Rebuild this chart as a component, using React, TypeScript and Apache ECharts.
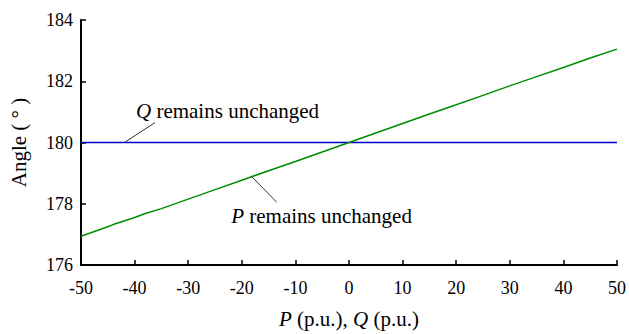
import React, { useEffect, useRef } from "react";
import * as echarts from "echarts";

const xTicks = [-50, -40, -30, -20, -10, 0, 10, 20, 30, 40, 50];
const pUnchangedX = [-50, -45, -44, -40, -38, -35, -30, -25, -20, -15, -10, -5, 0, 5, 10, 15, 20, 25, 30, 35, 40, 45, 50];
const pUnchangedY = [176.94, 177.25, 177.32, 177.55, 177.68, 177.84, 178.15, 178.46, 178.77, 179.08, 179.38, 179.69, 180.0, 180.31, 180.62, 180.93, 181.23, 181.54, 181.85, 182.15, 182.45, 182.76, 183.05];
const qUnchangedX = [-50, 50];
const qUnchangedY = [180, 180];

const qLeader = [[-41.9, 180], [-36.2, 180.65]];
const pLeader = [[-18.1, 178.88], [-13.5, 178.05]];
const qLabelAt = [-39.74, 181.02];
const pLabelAt = [-21.98, 177.61];

const FONT = "Liberation Serif";
const FS = 18;
const FN = 21;

export default function App() {
  const ref = useRef<HTMLDivElement>(null);
  useEffect(() => {
    if (!ref.current) return;
    const chart = echarts.init(ref.current, null, { renderer: "svg" });
    chart.setOption({
      animation: false,
      textStyle: { fontFamily: FONT },
      grid: { left: 74, top: 20, width: 546, height: 258, containLabel: false },
      xAxis: {
        type: "value",
        min: -50,
        max: 50,
        interval: 10,
        axisLine: { onZero: false, lineStyle: { color: "#000", width: 2 } },
        axisTick: { inside: true, length: 5, lineStyle: { color: "#000", width: 1.5 } },
        splitLine: { show: false },
        axisLabel: { color: "#000", fontSize: FS, fontFamily: FONT, margin: 14 },
        name: "{i|P} (p.u.), {i|Q} (p.u.)",
        nameLocation: "middle",
        nameGap: 43,
        nameTextStyle: {
          color: "#000",
          fontSize: FN,
          fontFamily: FONT,
          rich: { i: { fontStyle: "italic", fontSize: FN, fontFamily: FONT, color: "#000" } },
        },
      },
      yAxis: {
        type: "value",
        min: 176,
        max: 184,
        interval: 2,
        axisLine: { show: true, onZero: false, lineStyle: { color: "#000", width: 2 } },
        axisTick: { show: true, inside: true, length: 5, lineStyle: { color: "#000", width: 1.5 } },
        splitLine: { show: false },
        axisLabel: { color: "#000", fontSize: FS, fontFamily: FONT, margin: 8 },
        name: "Angle ( ° )",
        nameLocation: "middle",
        nameGap: 52,
        nameRotate: 90,
        nameTextStyle: { color: "#000", fontSize: FN, fontFamily: FONT },
      },
      series: [
        {
          type: "line",
          data: qUnchangedX.map((x, i) => [x, qUnchangedY[i]]),
          showSymbol: false,
          lineStyle: { color: "#0000cc", width: 1.5 },
          z: 2,
        },
        {
          type: "line",
          data: pUnchangedX.map((x, i) => [x, pUnchangedY[i]]),
          showSymbol: false,
          lineStyle: { color: "#008c00", width: 1.5 },
          z: 3,
        },
      ],
    });
    const px = (p: number[]) => chart.convertToPixel({ gridIndex: 0 }, p) as number[];
    const lineEl = (a: number[][]) => {
      const s = px(a[0]);
      const e = px(a[1]);
      return {
        type: "line",
        shape: { x1: s[0], y1: s[1], x2: e[0], y2: e[1] },
        style: { stroke: "#333", lineWidth: 1 },
        z: 10,
      };
    };
    const textEl = (at: number[], letter: string) => {
      const p = px(at);
      return {
        type: "text",
        x: p[0],
        y: p[1],
        style: {
          text: `{i|${letter}} remains unchanged`,
          fill: "#000",
          font: `${FN}px "${FONT}"`,
          verticalAlign: "middle",
          align: "left",
          rich: { i: { fontStyle: "italic", fontSize: FN, fontFamily: FONT, fill: "#000" } },
        },
        z: 10,
      };
    };
    chart.setOption({
      graphic: [lineEl(qLeader), lineEl(pLeader), textEl(qLabelAt, "Q"), textEl(pLabelAt, "P")],
    });
    return () => chart.dispose();
  }, []);
  return (
    <div
      ref={ref}
      style={{ position: "absolute", left: 0, top: 0, width: 629, height: 334, background: "#fff" }}
    />
  );
}
